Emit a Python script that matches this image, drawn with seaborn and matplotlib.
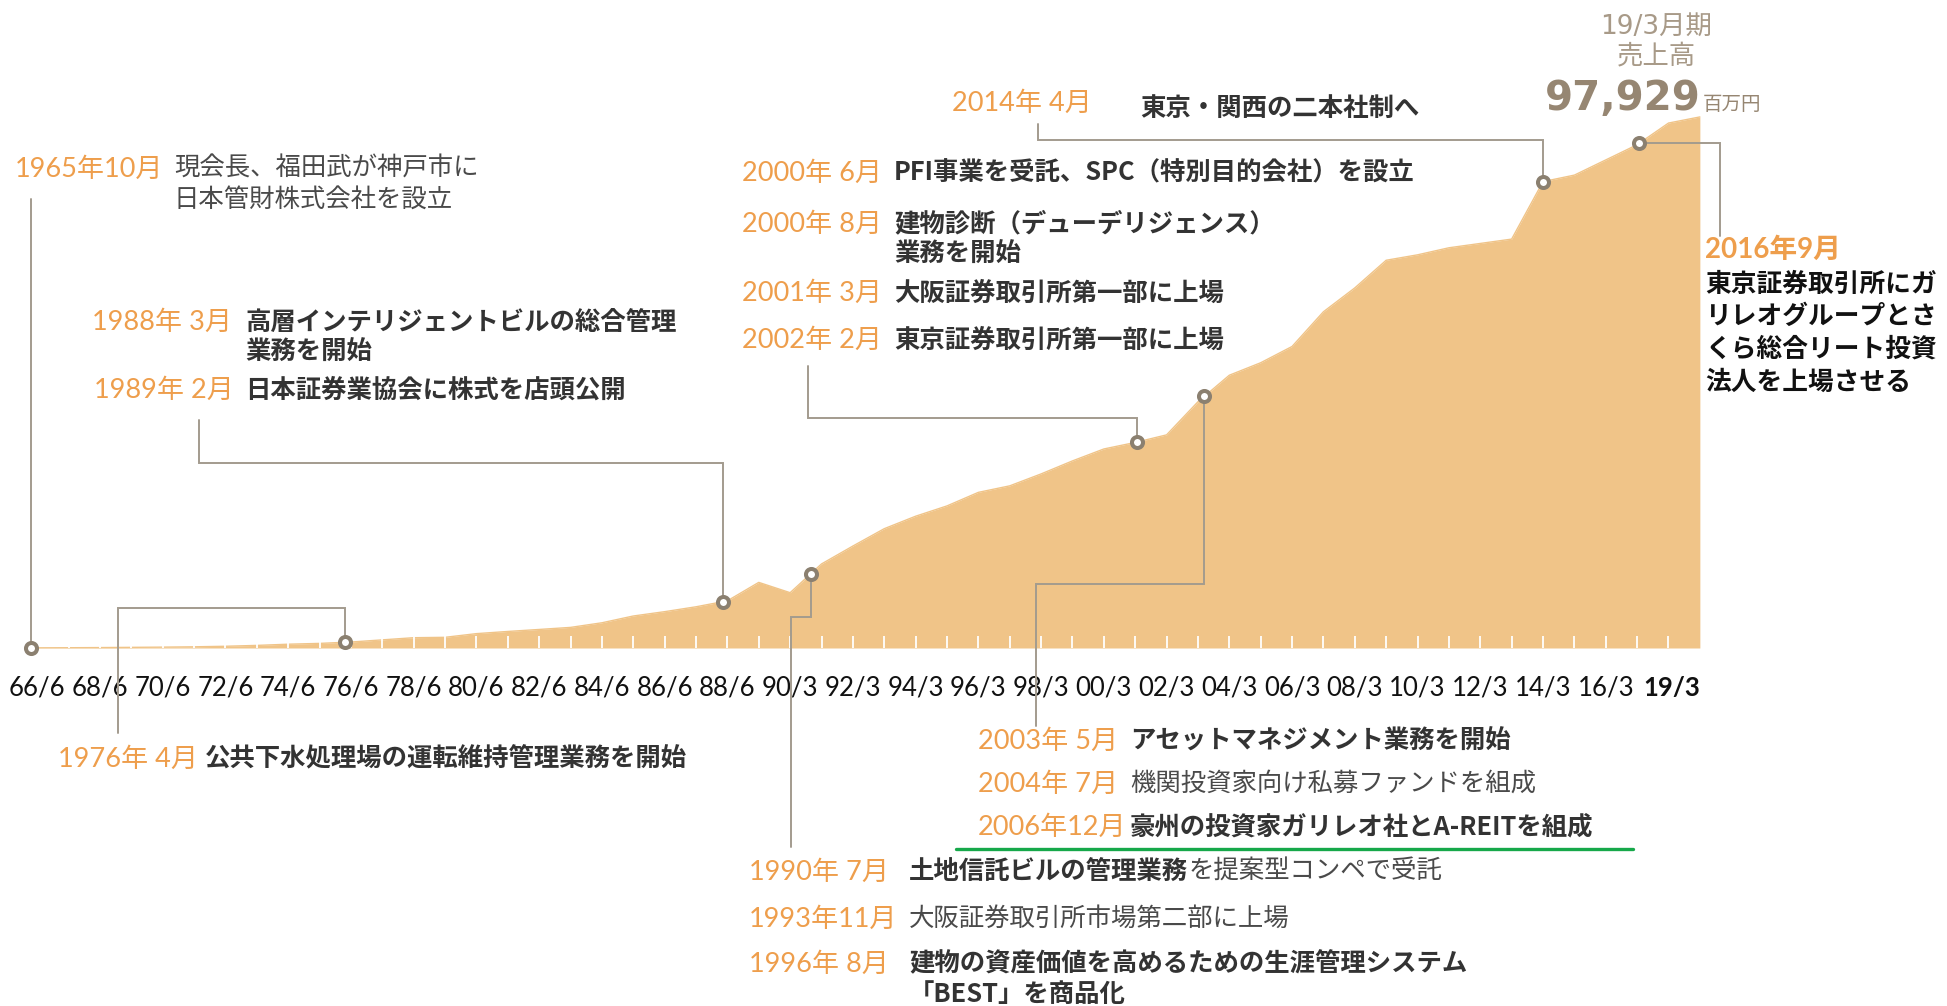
import numpy as np
import pandas as pd
import matplotlib
matplotlib.use("Agg")
import matplotlib.pyplot as plt
import seaborn as sns

# fiscal periods (June year-end up to 1989, March year-end from 1990)
periods = [
    "66/6", "67/6", "68/6", "69/6", "70/6", "71/6", "72/6", "73/6", "74/6", "75/6",
    "76/6", "77/6", "78/6", "79/6", "80/6", "81/6", "82/6", "83/6", "84/6", "85/6",
    "86/6", "87/6", "88/6", "89/6", "90/3", "91/3", "92/3", "93/3", "94/3", "95/3",
    "96/3", "97/3", "98/3", "99/3", "00/3", "01/3", "02/3", "03/3", "04/3", "05/3",
    "06/3", "07/3", "08/3", "09/3", "10/3", "11/3", "12/3", "13/3", "14/3", "15/3",
    "16/3", "17/3", "18/3", "19/3",
]
# net sales, million yen
sales = [
    30, 50, 80, 120, 160, 220, 320, 480, 700, 850,
    1100, 1500, 1900, 1970, 2650, 3050, 3420, 3800, 4650, 5900,
    6700, 7600, 8700, 12100, 10200, 15500, 18800, 22000, 24300, 26200,
    28700, 29900, 32100, 34500, 36700, 37900, 39300, 45400, 50300, 52600,
    55600, 62000, 66400, 71500, 72500, 73800, 74600, 75400, 86000, 87200,
    90000, 92800, 96800, 97929,
]
tick_labels = [
    "66/6", "68/6", "70/6", "72/6", "74/6", "76/6", "78/6", "80/6", "82/6", "84/6",
    "86/6", "88/6", "90/3", "92/3", "94/3", "96/3", "98/3", "00/3", "02/3", "04/3",
    "06/3", "08/3", "10/3", "12/3", "14/3", "16/3", "19/3",
]

# milestone markers, position on the period axis
event_names = ["1965/10", "1976/4", "1988/3", "1990/7", "2000/6", "2003/5", "2014/4", "2016/9"]
event_pos = [-0.2, 9.8, 21.85, 24.66, 35.05, 37.2, 48.0, 51.07]

AREA = "#F0C488"
ORANGE = "#EE9E4C"
DARK = "#333333"
GREY_TXT = "#4A4A4A"
LEAD = "#A39B8E"
RING = "#8B8070"
JP = ["Noto Sans CJK JP", "DejaVu Sans"]
YEAR_FONT = ["Lato", "Noto Sans CJK JP", "DejaVu Sans"]

sns.set_theme(style="white")
plt.rcParams["font.family"] = JP

W, H = 1947, 1006
X0, DX = 37.25, 31.37     # pixel of first period, pixels per period
BASE, VPX = 648, 184.4    # baseline pixel row, million yen per pixel


def px(x, y):
    return (x - X0) / DX, (BASE - y) * VPX


fig = plt.figure(figsize=(W / 100, H / 100), dpi=100)
ax = fig.add_axes([0, 0, 1, 1])
ax.set_xlim(px(0, 0)[0], px(W, 0)[0])
ax.set_ylim(px(0, H)[1], px(0, 0)[1])
ax.axis("off")

df = pd.DataFrame({"period": periods, "sales": sales})
df["pos"] = np.arange(len(df))

ax.fill_between(df["pos"], 0, df["sales"], color=AREA, lw=0, zorder=1)
sns.lineplot(data=df, x="pos", y="sales", ax=ax, color=AREA, lw=1, zorder=1)

# white tick marks inside the area
ax.vlines(df["pos"][1:-1], 0, 12 * VPX, color="white", lw=1.3, zorder=2)

lab_y = px(0, 688)[1]
for lab in tick_labels:
    i = periods.index(lab)
    last = lab == periods[-1]
    ax.text(i, lab_y, lab, ha="right" if last else "center", va="center",
            fontsize=18.5, family="Lato", weight="bold" if last else "normal",
            color="#111111")

# leader lines: start point, elbow row (None = at the marker's own height)
ev_y = np.interp(event_pos, df["pos"], df["sales"])
leaders = [(31, 199, None), (118, 733, 608), (199, 420, 463), (791, 847, 617),
           (808, 366, 418), (1036, 726, 584), (1038, 124, 140), (1720, 236, None)]
for (sx, sy, ey), ex, eyv in zip(leaders, event_pos, ev_y):
    x0, y0 = px(sx, sy)
    yk = eyv if ey is None else px(0, ey)[1]
    ax.plot([x0, x0, ex, ex], [y0, yk, yk, eyv], color=LEAD, lw=1.4, zorder=4,
            solid_joinstyle="miter")

sns.scatterplot(x=event_pos, y=ev_y, ax=ax, s=63, color="white", edgecolor=RING,
                linewidth=2.9, zorder=6, legend=False)


def put(x, y, s, **kw):
    kw.setdefault("va", "center")
    kw.setdefault("ha", "left")
    return ax.text(*px(x, y), s, **kw)


# (date, text lines, date x, text x, first row, bold)
notes = [
    ("1965年10月", ["現会長、福田武が神戸市に", "日本管財株式会社を設立"], 15, 174, 169, False),
    ("1988年 3月", ["高層インテリジェントビルの総合管理", "業務を開始"], 92, 245, 322, True),
    ("1989年 2月", ["日本証券業協会に株式を店頭公開"], 94, 245, 390, True),
    ("1976年 4月", ["公共下水処理場の運転維持管理業務を開始"], 58, 205, 759, True),
    ("2014年 4月", [], 952, 1140, 103, True),
    ("2000年 6月", ["PFI事業を受託、SPC（特別目的会社）を設立"], 742, 894, 173, True),
    ("2000年 8月", ["建物診断（デューデリジェンス）", "業務を開始"], 742, 894, 224, True),
    ("2001年 3月", ["大阪証券取引所第一部に上場"], 742, 894, 293, True),
    ("2002年 2月", ["東京証券取引所第一部に上場"], 742, 894, 340, True),
    ("2003年 5月", ["アセットマネジメント業務を開始"], 978, 1130, 741, True),
    ("2004年 7月", ["機関投資家向け私募ファンドを組成"], 978, 1130, 784, False),
    ("2006年12月", ["豪州の投資家ガリレオ社とA-REITを組成"], 978, 1130, 827, True),
    ("1990年 7月", [], 749, 909, 872, True),
    ("1993年11月", ["大阪証券取引所市場第二部に上場"], 749, 909, 919, False),
    ("1996年 8月", ["建物の資産価値を高めるための生涯管理システム", "「BEST」を商品化"], 749, 909, 964, True),
]
for date, lines, xd, xt, y, bold in notes:
    put(xd, y, date, fontsize=19.5, color=ORANGE, family=YEAR_FONT)
    for k, line in enumerate(lines):
        put(xt, y + 30.5 * k, line, fontsize=18.3, color=DARK if bold else GREY_TXT,
            weight="bold" if bold else "normal")

put(1140, 108, "東京・関西の二本社制へ", fontsize=18.3, color=DARK, weight="bold")
t = put(909, 872, "土地信託ビルの管理業務", fontsize=18.3, color=DARK, weight="bold")
ax.annotate("を提案型コンペで受託", xy=(1, 0.5), xycoords=t, va="center", ha="left",
            fontsize=18.3, color=GREY_TXT)

# green underline under the A-REIT line
ax.plot([px(956, 0)[0], px(1633, 0)[0]], [px(0, 849)[1]] * 2, color="#16A84A", lw=2.4,
        zorder=3)

# 2016 note on the right
put(1705, 250, "2016年9月", fontsize=20, color=ORANGE, weight="bold", family=YEAR_FONT)
for k, line in enumerate(["東京証券取引所にガ", "リレオグループとさ", "くら総合リート投資", "法人を上場させる"]):
    put(1705, 284 + 32.7 * k, line, fontsize=18.5, color="#111111", weight="bold")

# headline figure
put(1656, 27, "19/3月期", ha="center", fontsize=19, color="#A89A88",
    family=["DejaVu Sans", "Noto Sans CJK JP"])
put(1656, 56, "売上高", ha="center", fontsize=19, color="#A89A88")
put(1701, 110, f"{sales[-1]:,}", ha="right", va="baseline", fontsize=29,
    weight="bold", color="#968672", family="DejaVu Sans")
put(1703, 110, "百万円", va="baseline", fontsize=14, color="#968672")

fig.savefig("out.png", dpi=100)
